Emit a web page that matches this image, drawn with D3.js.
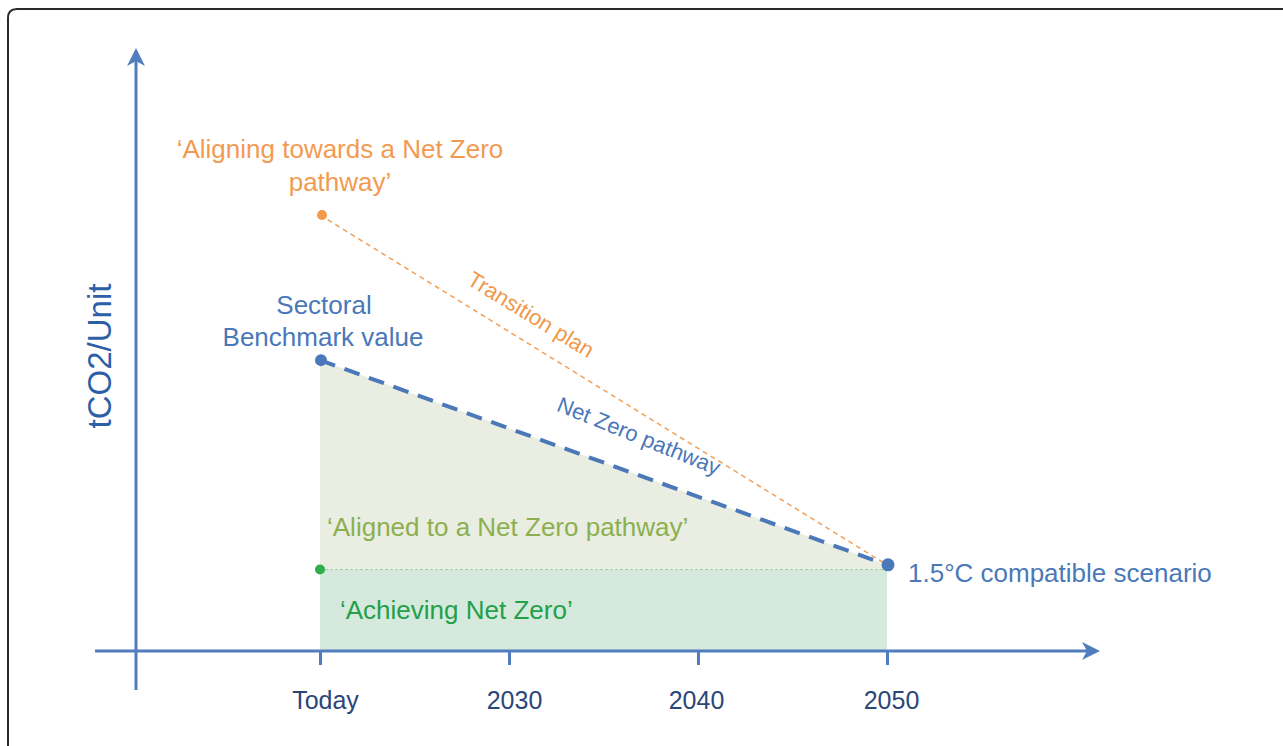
<!DOCTYPE html>
<html>
<head>
<meta charset="utf-8">
<script src="https://cdn.jsdelivr.net/npm/d3@7"></script>
<style>
html,body{margin:0;padding:0;background:#fff;}
svg{display:block;font-family:"Liberation Sans",Arial,sans-serif;}
</style>
</head>
<body>
<svg id="chart" width="1283" height="746"></svg>
<script>
// ---- data ----
const tickYears = [2020, 2030, 2040, 2050];
const tickLabels = ["Today", "2030", "2040", "2050"];
const transitionPlan = [{year: 2020, value: 73.9}, {year: 2050, value: 14.6}];
const netZeroPathway = [{year: 2020, value: 49.3}, {year: 2050, value: 14.6}];
const achievingLevel = [{year: 2020, value: 13.8}, {year: 2050, value: 13.8}];
const yAxisLabel = "tCO2/Unit";

const svg = d3.select("#chart");
const x = d3.scaleLinear().domain([2020, 2050]).range([320, 887]);
const y = d3.scaleLinear().domain([0, 100]).range([651, 61]);

// frame
svg.append("path")
  .attr("d", "M8,760 L8,18 Q8,9 17,9 L1290,9")
  .attr("fill", "none").attr("stroke", "#2a2a2a").attr("stroke-width", 2);

const blue = "#4a78b8", orange = "#f0a05a", green = "#2fae4e";

// areas
const upperArea = d3.area().x(d => x(d.year))
  .y0(y(achievingLevel[0].value)).y1(d => y(d.value));
svg.append("path").datum(netZeroPathway).attr("d", upperArea).attr("fill", "#e9ede2");
svg.append("rect")
  .attr("x", x(2020)).attr("y", y(achievingLevel[0].value))
  .attr("width", x(2050) - x(2020)).attr("height", y(0) - y(achievingLevel[0].value))
  .attr("fill", "#d5eadc");

const line = d3.line().x(d => x(d.year)).y(d => y(d.value));

// green dotted level
svg.append("path").datum(achievingLevel).attr("d", line)
  .attr("fill", "none").attr("stroke", "#9ccfa8").attr("stroke-width", 1).attr("stroke-dasharray", "3,2");

// transition plan
svg.append("path").datum(transitionPlan).attr("d", line)
  .attr("fill", "none").attr("stroke", orange).attr("stroke-width", 1.5).attr("stroke-dasharray", "5,4");

// net zero pathway
svg.append("path").datum(netZeroPathway).attr("d", line)
  .attr("fill", "none").attr("stroke", blue).attr("stroke-width", 4).attr("stroke-dasharray", "16,10");

// axes
const axisColor = "#4f7dbd";
svg.append("line").attr("x1", 95).attr("x2", 1093).attr("y1", y(0)).attr("y2", y(0))
  .attr("stroke", axisColor).attr("stroke-width", 3);
svg.append("path").attr("d", `M1082,${y(0)-9} L1100,${y(0)} L1082,${y(0)+9} L1087,${y(0)} Z`).attr("fill", axisColor);
svg.append("line").attr("x1", 136).attr("x2", 136).attr("y1", 690).attr("y2", 55)
  .attr("stroke", axisColor).attr("stroke-width", 3);
svg.append("path").attr("d", "M127,66 L136,48 L145,66 L136,61 Z").attr("fill", axisColor);

const xAxis = d3.axisBottom(x).tickValues(tickYears)
  .tickFormat((d, i) => tickLabels[i]).tickSize(14).tickPadding(26);
const gx = svg.append("g").attr("transform", `translate(0,${y(0)})`).call(xAxis);
gx.select(".domain").remove();
gx.selectAll(".tick line").attr("stroke", axisColor).attr("stroke-width", 3);
gx.selectAll(".tick text").attr("fill", "#2b4679").attr("font-size", 25)
  .attr("font-family", "Liberation Sans, Arial, sans-serif")
  .attr("dx", (d, i) => [5, 5, -2, 4][i]);

// y label
svg.append("text").attr("transform", "translate(111,356) rotate(-90)")
  .attr("text-anchor", "middle").attr("fill", "#2d5fa6").attr("font-size", 33).text(yAxisLabel);

// dots
svg.append("circle").attr("cx", x(2020) + 2).attr("cy", y(transitionPlan[0].value)).attr("r", 5).attr("fill", "#f39a4c");
svg.append("circle").attr("cx", x(2020) + 1).attr("cy", y(netZeroPathway[0].value)).attr("r", 6).attr("fill", blue);
svg.append("circle").attr("cx", x(2050) + 1).attr("cy", y(netZeroPathway[1].value)).attr("r", 6.5).attr("fill", blue);
svg.append("circle").attr("cx", x(2020)).attr("cy", y(achievingLevel[0].value)).attr("r", 5).attr("fill", green);

// annotations
function txt(t, xx, yy, col, size, anchor) {
  return svg.append("text").attr("x", xx).attr("y", yy).attr("fill", col)
    .attr("font-size", size).attr("text-anchor", anchor || "start").text(t);
}
txt("\u2018Aligning towards a Net Zero", 340, 158, "#f29b50", 26, "middle");
txt("pathway\u2019", 340, 191, "#f29b50", 26, "middle");
txt("Sectoral", 324, 314, "#4a78b8", 26, "middle");
txt("Benchmark value", 323, 346, "#4a78b8", 26, "middle");
txt("\u2018Aligned to a Net Zero pathway\u2019", 327, 536, "#8cb04f", 26);
txt("\u2018Achieving Net Zero\u2019", 340, 619, "#23a04a", 26);
txt("1.5\u00B0C compatible scenario", 908, 582, "#4a78b8", 26);

svg.append("text").attr("transform", "translate(527,321) rotate(31.5)")
  .attr("text-anchor", "middle").attr("fill", "#f0984a").attr("font-size", 22).text("Transition plan");
svg.append("text").attr("transform", "translate(636,443) rotate(22)")
  .attr("text-anchor", "middle").attr("fill", "#4a78b8").attr("font-size", 22).text("Net Zero pathway");
</script>
</body>
</html>
